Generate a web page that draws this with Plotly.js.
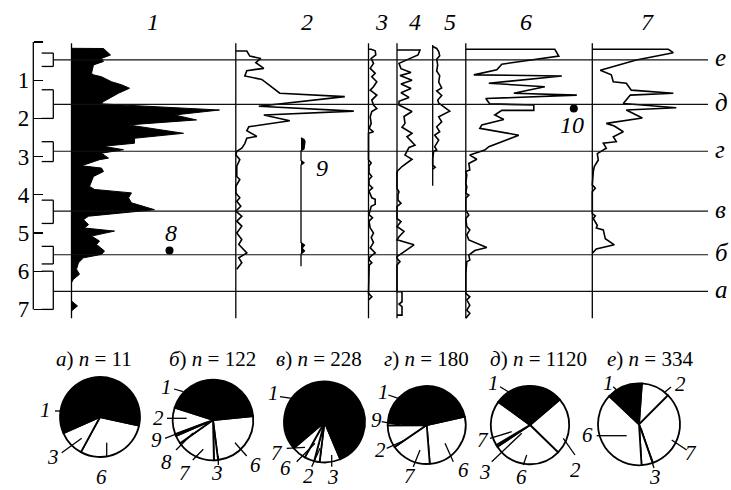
<!DOCTYPE html>
<html><head><meta charset="utf-8">
<script src="https://cdn.plot.ly/plotly-3.0.1.min.js"></script>
<style>html,body{margin:0;padding:0;background:#fff}</style>
</head><body><div id="chart" style="width:731px;height:490px"></div>
<script>
// ---------------- DATA ----------------
const depthTicks = [0, 1, 2, 3, 4, 5, 6, 7];
const depthLabels = ['', '1', '2', '3', '4', '5', '6', '7'];
const columnNames = ['1', '2', '3', '4', '5', '6', '7'];

const layerNames  = ['е', 'д', 'г', 'в', 'б', 'а'];
const layerTop    = [0.29, 1.25, 2.61, 4.14, 5.35, 6.0];
const layerBottom = [0.64, 2.0, 3.13, 4.75, 5.81, 7.0];
const layerMid    = [0.47, 1.635, 2.86, 4.43, 5.57, 6.53];

const col1Depth = [0.165,0.17,0.34,0.43,0.51,0.60,0.82,0.86,0.91,1.04,1.12,1.21,1.34,1.38,1.56,1.62,1.67,1.78,1.91,2.04,2.17,2.39,2.52,2.65,2.73,2.82,2.91,3.04,3.08,3.24,3.30,3.39,3.52,3.78,3.86,3.95,4.08,4.21,4.39,4.56,4.65,4.78,4.87,4.95,5.08,5.21,5.30,5.47,5.56,5.65,5.78,5.95,6.08,6.21,6.30,6.32];
const col1Value = [0,32,39,30,32,22,20,22,30,40,50,58,47,44,32,30,63,148,103,125,57,112,63,63,32,52,30,37,28,10,30,32,22,18,23,60,57,60,83,17,12,17,13,43,20,28,25,33,30,12,7,5,8,2,0,0];
const col1TailDepth = [6.78, 6.91, 7.04];
const col1TailValue = [0, 6, 0];

const col2Depth = [0.235,0.235,0.37,0.43,0.54,0.69,0.75,0.89,0.98,1.34,1.43,1.68,1.81,1.91,2.06,2.22,2.32,2.47,2.52,2.66,2.78,2.86,2.95,3.08,3.25,3.52,3.60,3.78,3.95,4.08,4.17,4.30,4.43,4.56,4.69,4.82,5.00,5.17,5.30,5.52,5.65,5.78,5.95];
const col2Value = [0,11,14,25,20,28,11,9,26,44,109,23,118,28,54,13,11,21,11,9,6,1,0,4,1,1,4,0,0,4,1,5,0,6,1,6,1,6,3,11,3,6,1];

const col3Depth = [0.19,0.19,0.23,0.34,0.43,0.56,0.69,0.82,0.91,1.04,1.17,1.26,1.39,1.52,1.65,1.74,1.82,1.96,2.13,2.26,2.35,2.39,3.08,3.17,3.25,3.43,3.52,3.60,3.73,3.82,3.90,3.99,4.08,4.12,4.25,4.30,4.52,4.60,4.69,4.87,5.00,5.12,5.25,5.39,5.52,5.60,5.65,5.71,5.78,5.84,6.58,6.67,6.75];
const col3Value = [0,2.7,6.7,7.3,2.7,5,1.7,6.7,3.3,8.3,5,1.7,8.3,3.3,5,8.3,3.3,1.7,2.7,0.7,5,0,0,2.7,0.5,0.5,3.3,0.5,0.5,4,0.5,1.7,3.3,6.7,6.7,2.7,0.5,4,0.5,1.7,5,2.7,5,1.7,6.7,2.7,0.7,0.7,3.3,0.7,0,3.3,0];

const col4Depth = [0.21,0.21,0.34,0.56,0.70,0.80,0.88,1.00,1.10,1.22,1.33,1.45,1.55,1.65,1.82,1.95,2.13,2.23,2.39,2.48,2.70,2.76,2.96,3.07,3.26,3.39,3.83,3.92,4.00,4.14,4.22,4.31,4.62,4.70,4.83,4.96,5.10,5.18,5.31,5.62,5.66,5.75,5.84,6.54,6.54,6.80,6.86,6.93,7.15,7.15];
const col4Value = [0,23,21,2,4,14,3,15,4,14,4,12,2,2,15,7,8,5,15,10,18,12,8,15,5,0,0,2,1,1,4,0,0,4,0,7,2,0,17,0,0,3,0,0,5,5,2,5,5,0];

const col5Depth = [0.12,0.17,0.25,0.36,0.45,0.60,0.76,0.88,1.05,1.20,1.28,1.40,1.52,1.60,1.81,1.96,2.09,2.22,2.35,2.44,2.57,2.74,2.83,2.86,3.05,3.22,3.28,3.33];
const col5Value = [0,4,6,7,4,5,4,7,6,9,4,9,5,6,17,6,9,4,7,2,6,2,4,1,0,0,2.5,0];

const col6Depth = [0.19,0.19,0.37,0.58,0.73,0.86,0.89,1.08,1.17,1.34,1.39,1.48,1.62,1.65,1.79,1.79,1.91,2.03,2.17,2.26,2.44,2.74,2.83,2.90,2.96,3.07,3.18,3.35,3.39,3.48,3.70,3.79,3.96,4.01,4.09,4.40,4.53,4.62,4.83,4.92,5.05,5.18,5.27,5.38,5.46,5.58,5.71,5.75,6.06,6.58,6.67,6.75,6.89,7.02,7.10,7.23];
const col6Value = [0,89,93,36,31,8,96,23,79,48,111,20,24,68,68,36,29,38,16,14,53,23,19,11,4,11,3,4,0,1,0,1,0,3,0,0,3,0,1,4,1,3,11,21,9,3,4,1,0,0,4,1,4,1,4,0];

const col7Depth = [0.19,0.19,0.28,0.47,0.74,0.86,1.04,1.08,1.26,1.34,1.39,1.61,1.72,1.78,1.99,2.13,2.20,2.35,2.48,2.61,2.65,2.78,2.92,3.09,3.26,3.39,3.74,3.83,3.92,4.49,4.55,4.62,4.80,4.87,4.92,5.15,5.31,5.42,5.53];
const col7Value = [0,76,81,44,8,19,21,34,39,81,38,31,84,34,50,14,22,31,21,24,11,14,5,6,2,1,0,3,0,0,3,1,5,4,11,13,22,4,0];

const col9Depth = [2.51,2.55,2.60,2.80,2.85,3.10,3.16,3.22,5.25,5.32,5.40,5.47,5.55,5.87];
const col9Value = [0,3,4,3,0,0,3,0,0,3.5,1,3.5,0,0];

const point8Depth = [5.46],  point8Value = [98];
const point10Depth = [1.74], point10Value = [108];

const pieLetters = ['а', 'б', 'в', 'г', 'д', 'е'];
const pieN = [11, 122, 228, 180, 1120, 334];
const pieALabels = ['6', '3', '1'];                 const pieAValues = [29.5, 10.5, 60];
const pieBLabels = ['6', '3', '7', '8', '9', '2', '1']; const pieBValues = [30, 2, 19, 4, 1, 13, 53];
const pieVLabels = ['3', '2', '6', '7', '1'];       const pieVValues = [19, 5, 9, 13, 182];
const pieGLabels = ['6', '7', '2', '9', '1'];       const pieGValues = [49, 30, 17, 2, 82];
const pieDLabels = ['2', '6', '3', '7', '1'];       const pieDValues = [263, 318, 9, 208, 322];
const pieELabels = ['2', '7', '3', '6', '1'];       const pieEValues = [38, 107, 15, 127, 47];

// ---------------- LAYOUT HELPERS ----------------
const W = 731, H = 490;
const P = x => x / W, Q = y => 1 - y / H;
const FONT = '"Liberation Serif", "Times New Roman", Times, "DejaVu Serif", serif';

const colAxes = [
  {id: 'x',  base: 71.5,  w: 160, top: 0.03, bot: 7.23},
  {id: 'x2', base: 235.8, w: 125, top: 0.03, bot: 7.23},
  {id: 'x3', base: 368.5, w: 15,  top: 0.03, bot: 7.23},
  {id: 'x4', base: 397,   w: 30,  top: 0.03, bot: 7.23},
  {id: 'x5', base: 432.7, w: 25,  top: 0.08, bot: 3.76},
  {id: 'x6', base: 465.8, w: 120, top: 0.03, bot: 7.23},
  {id: 'x7', base: 592.3, w: 95,  top: 0.03, bot: 7.23},
  {id: 'x8', base: 301,   w: 10,  top: null, bot: null}
];
const PAD = 4;

const layout = {
  width: W, height: H,
  margin: {l: 0, r: 0, t: 0, b: 0, pad: 0},
  paper_bgcolor: '#fff', plot_bgcolor: 'rgba(0,0,0,0)',
  showlegend: false,
  font: {family: FONT, color: '#000'},
  yaxis: {
    domain: [Q(322), Q(40)], range: [7.33, -0.0524], autorange: false,
    anchor: 'free', position: P(33.3), side: 'left',
    showgrid: false, zeroline: false, showline: false,
    ticks: 'inside', ticklen: 9, tickwidth: 1.3, tickcolor: '#000',
    tickvals: depthTicks, ticktext: depthLabels,
    tickfont: {family: FONT, size: 23, color: '#000'},
    ticklabelstandoff: 4
  },
  shapes: [], annotations: []
};

colAxes.forEach(a => {
  const key = a.id === 'x' ? 'xaxis' : 'xaxis' + a.id.slice(1);
  layout[key] = {
    domain: [P(a.base - PAD), P(a.base + a.w)], range: [-PAD, a.w], autorange: false,
    anchor: 'y', visible: false, showgrid: false, zeroline: false
  };
  if (a.top !== null) {
    layout.shapes.push({type: 'line', xref: a.id, yref: 'y', x0: 0, x1: 0, y0: a.top, y1: a.bot,
      line: {color: '#000', width: 1.3}});
  }
});

const L = (x0, y0, x1, y1, w) => ({type: 'line', xref: 'paper', yref: 'paper',
  x0: P(x0), y0: Q(y0), x1: P(x1), y1: Q(y1), line: {color: '#000', width: w || 1.3}});

// depth axis line
layout.shapes.push({type: 'line', xref: 'paper', yref: 'y', x0: P(33.3), x1: P(33.3), y0: 0, y1: 7,
  line: {color: '#000', width: 1.3}});
// brackets and layer lines
layerNames.forEach((nm, i) => {
  const ln = {color: '#000', width: 1.3};
  layout.shapes.push({type: 'line', xref: 'paper', yref: 'y', x0: P(41.7), x1: P(53.3), y0: layerTop[i], y1: layerTop[i], line: ln});
  layout.shapes.push({type: 'line', xref: 'paper', yref: 'y', x0: P(41.7), x1: P(53.3), y0: layerBottom[i], y1: layerBottom[i], line: ln});
  layout.shapes.push({type: 'line', xref: 'paper', yref: 'y', x0: P(53.3), x1: P(53.3), y0: layerTop[i], y1: layerBottom[i], line: ln});
  layout.shapes.push({type: 'line', xref: 'paper', yref: 'y', x0: P(53.3), x1: P(708), y0: layerMid[i], y1: layerMid[i], line: {color: '#111', width: 1.2}});
  layout.annotations.push({xref: 'paper', yref: 'y', x: P(713), y: layerMid[i], xanchor: 'left', yanchor: 'middle',
    text: '<i>' + nm + '</i>', showarrow: false, font: {family: FONT, size: 25, color: '#000'}, yshift: 2});
});

// column headers
const headerX = [153, 306.7, 381.7, 415, 450, 525.5, 647.5];
columnNames.forEach((c, i) => layout.annotations.push({xref: 'paper', yref: 'paper', x: P(headerX[i]), y: Q(22),
  text: '<i>' + c + '</i>', showarrow: false, xanchor: 'center', yanchor: 'middle', font: {family: FONT, size: 24, color: '#000'}}));

// point labels
[['8', 171.3, 233], ['9', 322, 168], ['10', 572, 125]].forEach(t => layout.annotations.push({
  xref: 'paper', yref: 'paper', x: P(t[1]), y: Q(t[2]), text: '<i>' + t[0] + '</i>', showarrow: false,
  xanchor: 'center', yanchor: 'middle', font: {family: FONT, size: 24, color: '#000'}}));

// ---------------- TRACES ----------------
const traces = [];
const lineTrace = (xs, ys, ax, extra) => Object.assign({type: 'scatter', mode: 'lines', x: xs, y: ys,
  xaxis: ax, yaxis: 'y', line: {color: '#000', width: 1.6}, hoverinfo: 'skip'}, extra || {});

traces.push(lineTrace(col1Value, col1Depth, 'x', {fill: 'tozerox', fillcolor: '#000', line: {color: '#000', width: 1}}));
traces.push(lineTrace(col1TailValue, col1TailDepth, 'x', {fill: 'tozerox', fillcolor: '#000', line: {color: '#000', width: 1}}));
traces.push(lineTrace(col2Value, col2Depth, 'x2'));
traces.push(lineTrace(col3Value, col3Depth, 'x3'));
traces.push(lineTrace(col4Value, col4Depth, 'x4'));
traces.push(lineTrace(col5Value, col5Depth, 'x5'));
traces.push(lineTrace(col6Value, col6Depth, 'x6'));
traces.push(lineTrace(col7Value, col7Depth, 'x7'));
traces.push(lineTrace(col9Value, col9Depth, 'x8', {fill: 'tozerox', fillcolor: '#000', line: {color: '#000', width: 1.3}}));
traces.push({type: 'scatter', mode: 'markers', x: point8Value, y: point8Depth, xaxis: 'x', yaxis: 'y',
  marker: {color: '#000', size: 8}, hoverinfo: 'skip'});
traces.push({type: 'scatter', mode: 'markers', x: point10Value, y: point10Depth, xaxis: 'x6', yaxis: 'y',
  marker: {color: '#000', size: 8}, hoverinfo: 'skip'});

// ---------------- PIES ----------------
const pieData = [
  [pieALabels, pieAValues], [pieBLabels, pieBValues], [pieVLabels, pieVValues],
  [pieGLabels, pieGValues], [pieDLabels, pieDValues], [pieELabels, pieEValues]
];
const pieGeom = [
  {cx: 100, cy: 417, r: 40, rot: 102.3, tx: 94},
  {cx: 213, cy: 420, r: 40.3, rot: 84.3, tx: 212},
  {cx: 324.5, cy: 422, r: 40.5, rot: 157, tx: 319},
  {cx: 426.7, cy: 425, r: 39, rot: 77.5, tx: 426},
  {cx: 530, cy: 425, r: 39.2, rot: 49.6, tx: 538},
  {cx: 639, cy: 424.3, r: 41, rot: 4, tx: 650}
];
// [label, text x, text y, leader x0, y0, x1, y1]
const pieLabelLayout = [
  [['1', 45, 410, 55, 411, 61.5, 411], ['3', 53.3, 456.7, 61.7, 452.7, 81.7, 438.3], ['6', 101.7, 477, 106.7, 442.7, 106.7, 457.3]],
  [['1', 166.7, 386.7, 174, 389, 183.3, 391.7], ['2', 158.3, 418.3, 167, 418.3, 186.7, 418.3], ['9', 156.7, 440, 165, 438.3, 207, 422],
   ['8', 166.7, 461.7, 176, 450, 193, 433], ['7', 185, 473.3, 192.7, 460, 203.3, 449.3], ['3', 216.7, 473.3, 218.3, 456, 218.3, 465],
   ['6', 255, 465, 246.7, 456, 235, 442.7]],
  [['1', 273.3, 393.3, 280, 396.7, 291.7, 398.3], ['7', 276.7, 453.3, 286.7, 448.3, 305, 447.3], ['6', 285, 468.3, 296.7, 461.7, 315, 443.3],
   ['2', 308.3, 476, 311.7, 466.7, 320, 448.3], ['3', 333.3, 477, 331.7, 455, 331.7, 466.7]],
  [['1', 383.3, 391.7, 388.3, 395, 398.3, 398.3], ['9', 376.7, 420, 381.7, 421.7, 400, 425], ['2', 380, 450, 386.7, 448.3, 405, 440],
   ['7', 410, 476, 413.3, 466.7, 420, 450], ['6', 463.3, 470, 453.3, 461.7, 445, 443.3]],
  [['1', 493.3, 383.3, 500, 386.7, 508.3, 391.7], ['7', 483.3, 440, 490, 438.3, 511.7, 431.7], ['3', 485, 471.7, 491.7, 461.7, 521.7, 433.3],
   ['6', 521.7, 477, 523.3, 465, 526.7, 455], ['2', 575, 470, 575, 455, 563.3, 438.3]],
  [['1', 608.3, 383.3, 613.3, 386.7, 618.3, 391.7], ['2', 680, 384, 665, 392, 671, 387], ['6', 587, 435, 596.7, 435.7, 626.7, 435.7],
   ['7', 691, 453, 686.7, 450, 671.7, 440], ['3', 655, 477, 641, 428, 654, 468]]
];

pieData.forEach((pd, i) => {
  const g = pieGeom[i];
  traces.push({
    type: 'pie', labels: pd[0], values: pd[1], sort: false, direction: 'clockwise', rotation: g.rot,
    marker: {colors: pd[0].map(l => l === '1' ? '#000' : '#fff'), line: {color: '#000', width: 1.8}},
    textinfo: 'none', hoverinfo: 'skip', showlegend: false,
    domain: {x: [P(g.cx - g.r), P(g.cx + g.r)], y: [Q(g.cy + g.r), Q(g.cy - g.r)]}
  });
  layout.annotations.push({xref: 'paper', yref: 'paper', x: P(g.tx), y: Q(359), xanchor: 'center', yanchor: 'middle',
    showarrow: false, text: '<i>' + pieLetters[i] + '</i>) <i>n</i> = ' + pieN[i], font: {family: FONT, size: 21, color: '#000'}});
  pieLabelLayout[i].forEach(lb => {
    layout.shapes.push(L(lb[3], lb[4], lb[5], lb[6], 1.3));
    layout.annotations.push({xref: 'paper', yref: 'paper', x: P(lb[1]), y: Q(lb[2]), xanchor: 'center', yanchor: 'middle',
      showarrow: false, text: '<i>' + lb[0] + '</i>', font: {family: FONT, size: 21, color: '#000'}});
  });
});

Plotly.newPlot('chart', traces, layout, {displayModeBar: false, staticPlot: true});
</script></body></html>
